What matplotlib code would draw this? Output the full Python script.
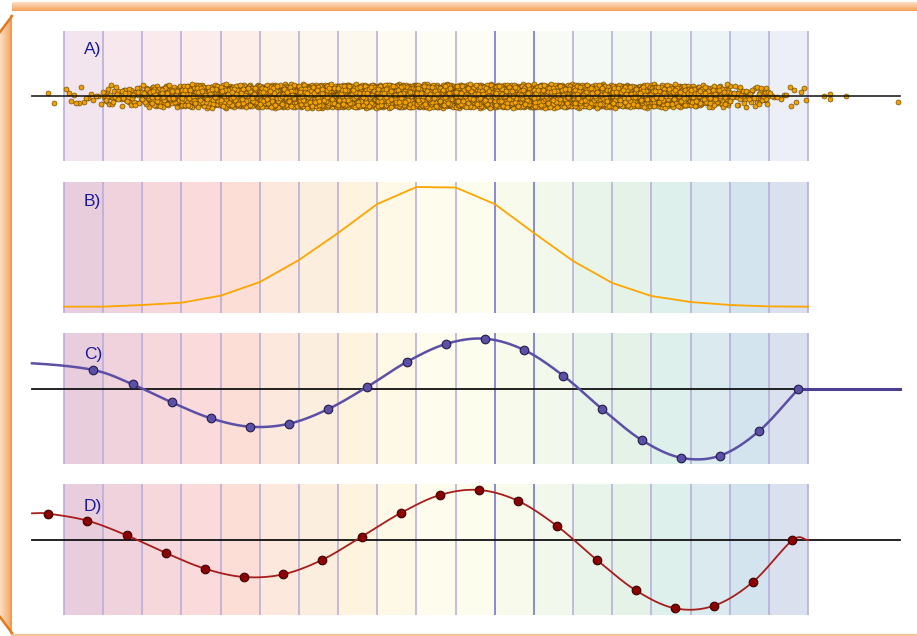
import numpy as np
import matplotlib
matplotlib.use("Agg")
import matplotlib.pyplot as plt
from matplotlib.patches import Polygon

# ============================================================
# DATA
# ============================================================

panel_labels = ["A)", "B)", "C)", "D)"]

# dots per bin in panel A (19 bins) + a few stray points outside the bins
a_counts = [15, 60, 200, 400, 560, 700, 800, 850, 880, 880,
            880, 850, 800, 700, 560, 400, 200, 60, 14]
a_stray_x = [-0.41, -0.26, 19.40, 19.55, 19.55, 19.98, 21.30]
a_stray_y = [0.05, -0.11, 0.00, 0.03, -0.04, 0.00, -0.09]

# panel B: frequency polygon at the 20 bin edges
b_edges = list(range(20))
b_vals = [0.0, 0.0, 0.014, 0.033, 0.092, 0.206, 0.39, 0.616, 0.858, 1.0,
          0.996, 0.858, 0.616, 0.382, 0.198, 0.089, 0.039, 0.014, 0.002, 0.0]

# panel C: samples at bin position i + 0.75
c_x = [i + 0.75 for i in range(19)]
c_y = [0.38, 0.094, -0.266, -0.586, -0.754, -0.694, -0.40, 0.046, 0.54, 0.90,
       1.006, 0.78, 0.266, -0.406, -1.02, -1.374, -1.334, -0.84, 0.0]
c_start = (-0.817, 0.514)

# panel D: samples at bin position i - 0.4
d_x = [i - 0.4 for i in range(20)]
d_y = [0.526, 0.386, 0.094, -0.26, -0.574, -0.74, -0.686, -0.394, 0.066, 0.54,
       0.90, 1.0, 0.78, 0.274, -0.394, -1.006, -1.366, -1.314, -0.834, -0.006]
d_start = (-0.817, 0.534)
d_end = (19.0, 0.0)

bin_colors = ["#e8cddc", "#f0d2dc", "#f6d7dc", "#fadada", "#fcded7",
              "#fce8dc", "#fceede", "#fdf3de", "#fef8e6", "#fefcec",
              "#fdfdee", "#f8faeb", "#f2f8eb", "#e8f4ea", "#e4f2e8",
              "#def0eb", "#daeaee", "#d4e4ee", "#dae0ee"]

# ============================================================
# LAYOUT HELPERS
# ============================================================

W, H = 917, 636
X0_PX, BIN_PX = 64.0, 39.16


def to_bin(px):
    return (px - X0_PX) / BIN_PX


XLIM = (to_bin(30), to_bin(905))
LINE_SPAN = (to_bin(32), to_bin(900))


def px_axes(x0, y0, x1, y1):
    ax = fig.add_axes([x0 / W, 1 - y1 / H, (x1 - x0) / W, (y1 - y0) / H])
    ax.set_xlim(*XLIM)
    ax.axis("off")
    ax.patch.set_alpha(0)
    return ax


def halton(k, base):
    f, r = 1.0, 0.0
    while k > 0:
        f /= base
        r += f * (k % base)
        k //= base
    return r


def catmull(xs, ys, n=24, flat_start=False):
    p = np.column_stack([xs, ys]).astype(float)
    first = 2 * p[0] - p[1]
    if flat_start:
        first[1] = p[0][1]
    p = np.vstack([first, p, 2 * p[-1] - p[-2]])
    t = np.linspace(0, 1, n, endpoint=False)[:, None]
    out = []
    for i in range(1, len(p) - 2):
        p0, p1, p2, p3 = p[i - 1], p[i], p[i + 1], p[i + 2]
        seg = 0.5 * (2 * p1 + (-p0 + p2) * t
                     + (2 * p0 - 5 * p1 + 4 * p2 - p3) * t ** 2
                     + (-p0 + 3 * p1 - 3 * p2 + p3) * t ** 3)
        out.append(seg)
    out.append(p[-2][None, :])
    return np.vstack(out)


def draw_bins(ax, alpha):
    for i, col in enumerate(bin_colors):
        ax.axvspan(i, i + 1, color=col, alpha=alpha, lw=0, zorder=0)
    for i in range(len(bin_colors) + 1):
        col = "#6a6acc" if i in (11, 12) else "#b4aad8"
        ax.axvline(i, color=col, lw=1.1, zorder=1)


label_style = dict(fontsize=12.5, color="#1a1a9a", ha="left", va="center",
                   family=["Liberation Sans", "DejaVu Sans"])

# ============================================================
# FIGURE + FRAME
# ============================================================

fig = plt.figure(figsize=(W / 100, H / 100), dpi=100)

bg = fig.add_axes([0, 0, 1, 1])
bg.set_xlim(0, W)
bg.set_ylim(H, 0)
bg.axis("off")

c_light = np.array([252, 222, 196]) / 255
c_dark = np.array([245, 162, 90]) / 255

top = np.linspace(0, 1, 20)
grad_v = c_light + (c_dark - c_light) * top[:, None, None]
grad_v = np.repeat(grad_v, 2, axis=1)
bg.imshow(grad_v, extent=(12, W, 11, 2), aspect="auto", zorder=1)

left = np.linspace(0, 1, 20)
grad_h = c_light + (c_dark - c_light) * left[None, :, None]
grad_h = np.repeat(grad_h, 2, axis=0)
im = bg.imshow(grad_h, extent=(0, 12, 633, 16), aspect="auto", zorder=1)
clip = Polygon([(0, 32), (12, 16), (12, 633), (0, 617)], closed=True,
               transform=bg.transData)
im.set_clip_path(clip)
bg.plot([11.4, 11.4], [16, 633], color="#f29a50", lw=1.2, zorder=2)
bg.plot([0, 12], [32, 16], color="#e07a20", lw=1.8, zorder=3)
bg.plot([0, 12], [617, 633], color="#e07a20", lw=1.8, zorder=3)
bg.plot([12, W], [634.5, 634.5], color="#f6c498", lw=1.6, zorder=2)
bg.set_xlim(0, W)
bg.set_ylim(H, 0)

# ============================================================
# PANEL A: jittered dots
# ============================================================

axA = px_axes(30, 31, 905, 161)
axA.set_ylim(-1, 1)
draw_bins(axA, 0.5)

ax_pts, ay_pts = [], []
k = 0
for i, n in enumerate(a_counts):
    for j in range(n):
        k += 1
        ax_pts.append(i + halton(k, 2))
        s = halton(k, 3) + halton(k, 5) - 1.0
        ay_pts.append(s * 0.19)
ax_pts += a_stray_x
ay_pts += a_stray_y

axA.scatter(ax_pts, ay_pts, s=13, facecolor="#f0a000", edgecolor="#5a3c00",
            linewidths=0.4, zorder=3, clip_on=False)
axA.plot(LINE_SPAN, [0, 0], color="#111111", lw=1.3, alpha=0.85, zorder=4)
axA.text(to_bin(84), 0.71, panel_labels[0], **label_style)

# ============================================================
# PANEL B: frequency polygon
# ============================================================

axB = px_axes(30, 182, 905, 313)
axB.set_ylim(-0.053, 1.042)
draw_bins(axB, 1.0)
axB.plot(b_edges, b_vals, color="#ffa500", lw=1.3, zorder=3)
axB.text(to_bin(84), 0.88, panel_labels[1], **label_style)

# ============================================================
# PANEL C
# ============================================================

axC = px_axes(30, 333, 905, 464)
axC.set_ylim(-1.5, 1.12)
draw_bins(axC, 1.0)
axC.plot(LINE_SPAN, [0, 0], color="#111111", lw=1.3, zorder=2)
curve_c = catmull([c_start[0]] + c_x, [c_start[1]] + c_y, flat_start=True)
axC.plot(curve_c[:, 0], curve_c[:, 1], color="#5b4fa6", lw=1.8, zorder=3)
axC.plot([c_x[-1], LINE_SPAN[1]], [c_y[-1], c_y[-1]], color="#4a3f90",
         lw=2.2, zorder=3)
axC.plot(c_x, c_y, "o", ms=6.2, mfc="#5b4fa6", mec="#241c4c", mew=0.8,
         zorder=4, clip_on=False)
axC.text(to_bin(84), 0.69, panel_labels[2], **label_style)

# ============================================================
# PANEL D
# ============================================================

axD = px_axes(30, 484, 905, 615)
axD.set_ylim(-1.5, 1.12)
draw_bins(axD, 1.0)
axD.plot(LINE_SPAN, [0, 0], color="#111111", lw=1.3, zorder=2)
curve_d = catmull([d_start[0]] + d_x + [d_end[0]],
                  [d_start[1]] + d_y + [d_end[1]], flat_start=True)
axD.plot(curve_d[:, 0], curve_d[:, 1], color="#a81c1c", lw=1.3, zorder=3)
axD.plot(d_x, d_y, "o", ms=6.2, mfc="#8b0000", mec="#3a0000", mew=0.8,
         zorder=4, clip_on=False)
axD.text(to_bin(84), 0.68, panel_labels[3], **label_style)

fig.savefig("out.png", dpi=100)
